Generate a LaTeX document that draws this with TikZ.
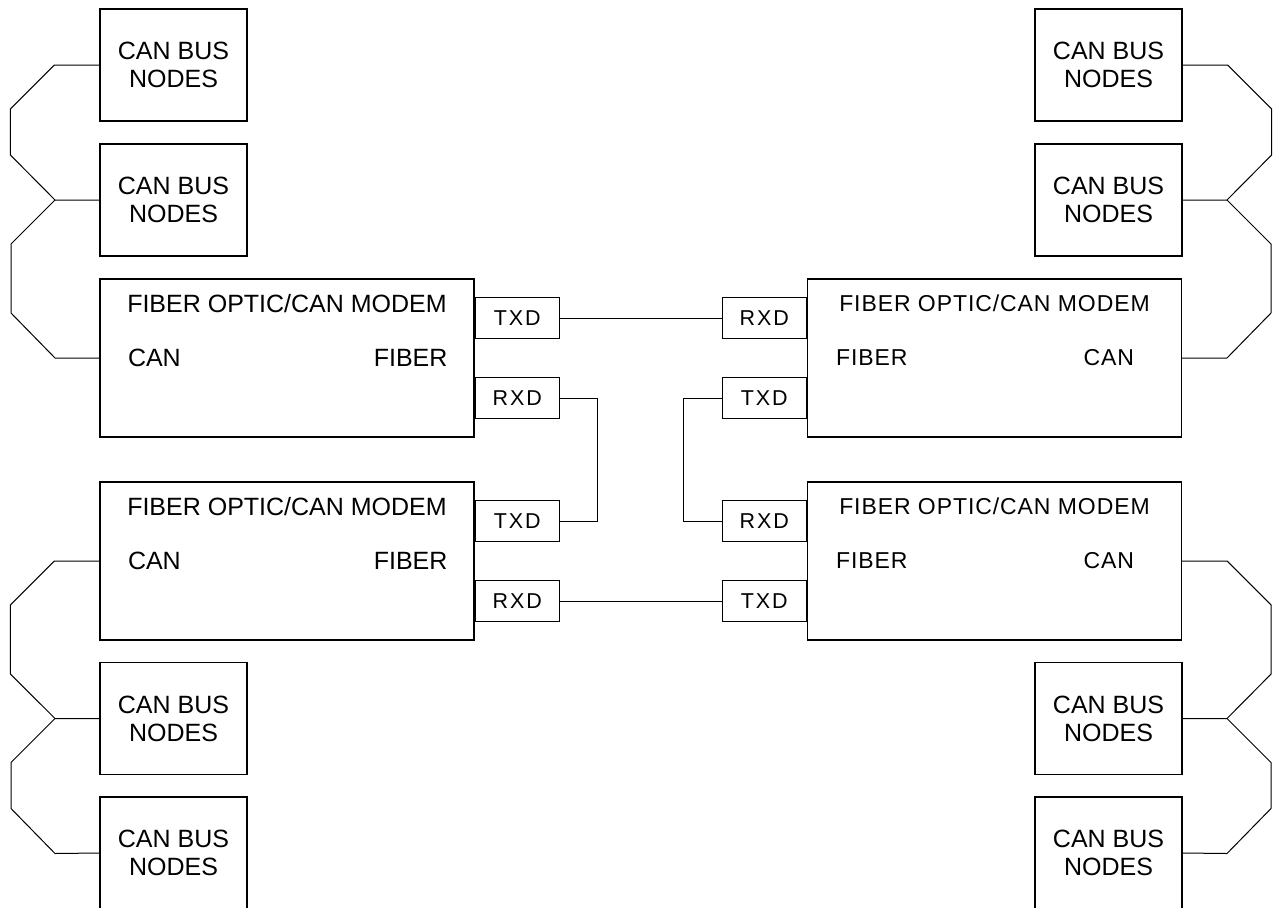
\documentclass[tikz,border=0pt]{standalone}
\usepackage{fontspec}
\setmainfont{Liberation Sans}
\newfontfamily\spacedfont[LetterSpace=4]{Liberation Sans}
\newfontfamily\portfont[LetterSpace=9]{Liberation Sans}
\usepackage{tikz}
\usetikzlibrary{calc,positioning}

\begin{document}
\begin{tikzpicture}[
  x=1pt, y=-1pt,
  canbox/.style={draw, line width=1.2pt, minimum width=147pt, minimum height=112pt, align=center, font=\fontsize{25}{28}\selectfont},
  modem/.style={draw, line width=1.2pt, minimum width=374pt, minimum height=158pt},
  port/.style={draw, line width=1.2pt, minimum width=84pt, minimum height=41pt, inner sep=0pt, font=\portfont\fontsize{21.5}{24}\selectfont},
  ltext/.style={inner sep=0pt, font=\fontsize{25}{28}\selectfont},
  rtext/.style={inner sep=0pt, font=\spacedfont\fontsize{23}{26}\selectfont},
  wire/.style={line width=1pt}
]
\useasboundingbox (0,0) rectangle (1273,910);
\clip (0,0) rectangle (1273,907.5);

% Left side: CAN bus nodes and modems
\node[canbox] (cL1) at (173.5, 65) {CAN BUS\\NODES};
\node[canbox] (cL2) at (173.5, 200) {CAN BUS\\NODES};
\node[modem] (mL1) at (287, 358) {};
\node[modem] (mL2) at (287, 561) {};
\node[canbox] (cL3) at (173.5, 718.5) {CAN BUS\\NODES};
\node[canbox] (cL4) at (173.5, 853) {CAN BUS\\NODES};

% Right side: CAN bus nodes and modems
\node[canbox] (cR1) at (1108.5, 65) {CAN BUS\\NODES};
\node[canbox] (cR2) at (1108.5, 200) {CAN BUS\\NODES};
\node[modem] (mR1) at (994.5, 358) {};
\node[modem] (mR2) at (994.5, 561) {};
\node[canbox] (cR3) at (1108.5, 718.5) {CAN BUS\\NODES};
\node[canbox] (cR4) at (1108.5, 853) {CAN BUS\\NODES};

% Modem labels
\foreach \m in {mL1, mL2} {
  \node[ltext] at ([yshift=-25pt]\m.north) {FIBER OPTIC/CAN MODEM};
  \node[ltext] at ([xshift=55pt]\m.west) {CAN};
  \node[ltext, anchor=east] at ([xshift=-27pt]\m.east) {FIBER};
}
\foreach \m in {mR1, mR2} {
  \node[rtext] at ([yshift=-25pt]\m.north) {FIBER OPTIC/CAN MODEM};
  \node[rtext, anchor=west] at ([xshift=29pt]\m.west) {FIBER};
  \node[rtext, anchor=east] at ([xshift=-48pt]\m.east) {CAN};
}

% Fiber ports
\node[port, anchor=west] (txL1) at ([yshift=40pt]mL1.east) {TXD};
\node[port, anchor=west] (rxL1) at ([yshift=-40pt]mL1.east) {RXD};
\node[port, anchor=west] (txL2) at ([yshift=40pt]mL2.east) {TXD};
\node[port, anchor=west] (rxL2) at ([yshift=-40pt]mL2.east) {RXD};
\node[port, anchor=east] (rxR1) at ([yshift=40pt]mR1.west) {RXD};
\node[port, anchor=east] (txR1) at ([yshift=-40pt]mR1.west) {TXD};
\node[port, anchor=east] (rxR2) at ([yshift=40pt]mR2.west) {RXD};
\node[port, anchor=east] (txR2) at ([yshift=-40pt]mR2.west) {TXD};

% Fiber links
\draw[wire] (txL1.east) -- (rxR1.west);
\draw[wire] (rxL1.east) -- ++(38,0) |- (txL2.east);
\draw[wire] (txR1.west) -- ++(-38,0) |- (rxR2.west);
\draw[wire] (rxL2.east) -- (txR2.west);

% CAN bus wiring
\coordinate (jL1) at (55, 200);
\coordinate (jL2) at (55, 718.5);
\coordinate (jR1) at (1227, 200);
\coordinate (jR2) at (1227, 718.5);
\draw[wire] (cL1.west) -- ++(-45,0) -- ++(-44,44) -- ++(0,46) -- (jL1) -- (cL2.west);
\draw[wire] (jL1) -- ++(-44,44) -- ++(0,69) -- ++(44,45) -- (mL1.west);
\draw[wire] (mL2.west) -- ++(-45,0) -- ++(-44,44) -- ++(0,69) -- (jL2) -- (cL3.west);
\draw[wire] (jL2) -- ++(-44,44) -- ++(0,46) -- ++(44,45) -- (cL4.west);
\draw[wire] (cR1.east) -- ++(45,0) -- ++(44,44) -- ++(0,46) -- (jR1) -- (cR2.east);
\draw[wire] (jR1) -- ++(44,44) -- ++(0,69) -- ++(-44,45) -- (mR1.east);
\draw[wire] (mR2.east) -- ++(45,0) -- ++(44,44) -- ++(0,69) -- (jR2) -- (cR3.east);
\draw[wire] (jR2) -- ++(44,44) -- ++(0,46) -- ++(-44,45) -- (cR4.east);
\end{tikzpicture}
\end{document}
